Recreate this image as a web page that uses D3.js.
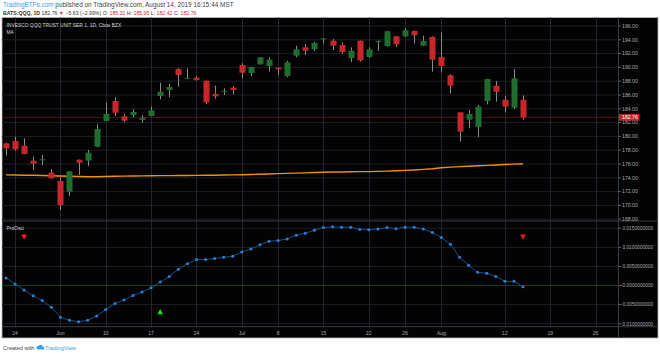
<!DOCTYPE html>
<html>
<head>
<meta charset="utf-8">
<script src="https://cdn.jsdelivr.net/npm/d3@7"></script>
<style>
  body { margin: 0; background: #fff; }
  svg { display: block; font-family: "Liberation Sans", Arial, sans-serif; }
</style>
</head>
<body>
<div id="chart"></div>
<script>
// trading days, May 23 - Aug 14 2019
const dates = [
  "05-23","05-24","05-28","05-29","05-30","05-31",
  "06-03","06-04","06-05","06-06","06-07","06-10","06-11","06-12","06-13","06-14",
  "06-17","06-18","06-19","06-20","06-21","06-24","06-25","06-26","06-27","06-28",
  "07-01","07-02","07-03","07-05","07-08","07-09","07-10","07-11","07-12",
  "07-15","07-16","07-17","07-18","07-19","07-22","07-23","07-24","07-25","07-26",
  "07-29","07-30","07-31","08-01","08-02","08-05","08-06","08-07","08-08","08-09",
  "08-12","08-13","08-14"
];
const open  = [179.00,179.33,178.65,176.48,176.55,174.74,173.54,171.99,176.62,176.48,178.51,182.23,185.13,182.91,183.10,182.38,182.96,185.86,186.72,189.77,188.40,188.51,188.07,186.14,186.55,187.06,190.35,189.19,190.45,190.20,189.96,188.75,191.70,192.91,192.62,194.07,193.87,193.25,191.36,193.87,191.51,193.75,193.10,194.51,194.51,195.28,193.14,194.41,191.51,188.86,183.49,182.42,181.36,185.13,187.35,185.32,184.16,185.31];
const high  = [179.10,179.96,179.72,177.06,177.30,175.28,174.02,175.00,176.65,178.03,181.75,184.88,185.67,183.25,183.93,183.06,184.30,187.78,187.59,189.90,189.87,188.75,188.10,187.35,186.97,187.30,190.59,190.10,191.50,191.46,190.00,190.97,193.14,193.39,193.72,194.25,194.12,193.64,192.91,193.90,192.91,193.90,195.30,194.55,195.67,195.35,194.59,194.51,195.09,189.00,183.50,183.83,184.55,188.35,188.03,185.90,189.77,185.95];
const low   = [177.20,177.93,177.40,175.13,175.86,173.90,169.33,171.36,174.41,175.71,178.42,182.20,182.96,182.04,182.77,181.99,182.90,185.38,185.67,187.20,188.28,188.07,184.70,185.46,186.00,186.10,188.42,188.75,190.40,189.38,188.90,188.57,191.46,191.80,192.38,193.49,192.52,191.99,190.78,190.83,191.36,192.38,193.00,192.96,194.40,193.49,193.10,189.38,189.29,186.25,179.23,181.17,179.91,184.65,185.03,183.49,183.97,182.42];
const close = [178.28,178.13,177.45,176.04,176.68,173.93,170.06,174.94,176.19,177.64,181.07,183.25,183.44,182.28,183.54,182.71,183.78,186.48,187.16,188.90,188.50,188.17,184.94,185.81,186.62,186.72,189.23,190.06,191.46,191.12,189.72,190.74,192.62,192.42,193.54,194.20,193.14,192.23,192.42,191.03,192.62,193.85,195.23,193.35,195.38,194.65,193.83,191.12,190.20,187.35,180.68,183.25,184.30,188.32,186.48,184.30,188.42,182.76];
const ma    = [174.42,174.40,174.38,174.36,174.33,174.30,174.26,174.22,174.18,174.16,174.16,174.18,174.22,174.25,174.27,174.28,174.30,174.31,174.32,174.33,174.34,174.35,174.36,174.37,174.40,174.42,174.45,174.48,174.52,174.56,174.60,174.64,174.68,174.72,174.76,174.80,174.83,174.85,174.87,174.89,174.90,174.93,174.97,175.02,175.08,175.14,175.22,175.32,175.45,175.55,175.62,175.68,175.74,175.80,175.86,175.92,175.98,176.04];
const osc   = [0.0020,0.0004,-0.0012,-0.0027,-0.0039,-0.0057,-0.0083,-0.0091,-0.0095,-0.0091,-0.0080,-0.0063,-0.0047,-0.0038,-0.0026,-0.0017,-0.0006,0.0009,0.0024,0.0043,0.0057,0.0068,0.0068,0.0071,0.0074,0.0077,0.0088,0.0096,0.0107,0.0116,0.0118,0.0122,0.0132,0.0137,0.0145,0.0152,0.0154,0.0153,0.0153,0.0147,0.0146,0.0148,0.0152,0.0149,0.0153,0.0153,0.0148,0.0139,0.0126,0.0108,0.0074,0.0053,0.0035,0.0032,0.0024,0.0011,0.0011,-0.0003];

const sellSignals = [2, 57];
const buySignals = [17];

const timeTickIndex = [1, 6, 11, 16, 21, 26, 30, 35, 40, 44, 48, 55, 60, 65];
const timeTickLabels = ["24", "Jun", "10", "17", "24", "Jul", "8", "15", "22", "26", "Aug", "12", "19", "26"];
const priceTicks = d3.range(168, 197, 2);
const oscTicks = [0.015, 0.01, 0.005, 0, -0.005, -0.01];
const oscTickLabels = ["0.0150000000", "0.0100000000", "0.0050000000", "-0.0000000000", "-0.0050000000", "-0.0100000000"];
const lastPrice = 182.76;

const W = 660, H = 354;
const svg = d3.select("#chart").append("svg").attr("width", W).attr("height", H);

// header
const h1 = svg.append("text").attr("x", 3).attr("y", 7.2).style("font-size", "6.4px").attr("fill", "#444");
h1.append("tspan").attr("fill", "#3a9ee6").text("TradingETFs.com");
h1.append("tspan").text(" published on TradingView.com, August 14, 2019 16:15:44 MST");

const h2 = svg.append("text").attr("x", 3).attr("y", 14.6).style("font-size", "5.2px").attr("fill", "#333");
h2.append("tspan").attr("font-weight", "bold").text("BATS:QQQ, 1D");
h2.append("tspan").text(" 182.76 ");
h2.append("tspan").attr("fill", "#e0252b").text("▼");
h2.append("tspan").text(" −5.63 (−2.99%) O: ");
h2.append("tspan").attr("fill", "#e0252b").text("185.31");
h2.append("tspan").text(" H: ");
h2.append("tspan").attr("fill", "#e0252b").text("185.95");
h2.append("tspan").text(" L: ");
h2.append("tspan").attr("fill", "#e0252b").text("182.42");
h2.append("tspan").text(" C: ");
h2.append("tspan").attr("fill", "#e0252b").text("182.76");

// chart background
const plotL = 2, plotR = 658, plotT = 17.5, plotB = 338;
const axisX = 618.5;
svg.append("rect").attr("x", plotL).attr("y", plotT).attr("width", plotR - plotL).attr("height", plotB - plotT)
  .attr("fill", "#030303").attr("stroke", "#b8b8b8").attr("stroke-width", 0.8);

// scales
const x = d3.scaleLinear().domain([0, 65]).range([6, 595.6]);
const yP = d3.scaleLinear().domain([168, 196]).range([219.2, 26]);
const yO = d3.scaleLinear().domain([-0.01, 0.015]).range([323.7, 228.3]);

const priceBottom = 221, oscBottom = 326.7;
const grid = svg.append("g");

// horizontal grid
grid.selectAll(".hp").data(priceTicks).enter().append("line")
  .attr("x1", plotL).attr("x2", axisX).attr("y1", d => yP(d)).attr("y2", d => yP(d))
  .attr("stroke", "#1c1f27").attr("stroke-width", 1);
grid.selectAll(".ho").data(oscTicks).enter().append("line")
  .attr("x1", plotL).attr("x2", axisX).attr("y1", d => yO(d)).attr("y2", d => yO(d))
  .attr("stroke", "#1c1f27").attr("stroke-width", 1);

// vertical grid
grid.selectAll(".v").data(timeTickIndex).enter().append("line")
  .attr("x1", d => Math.round(x(d)) + 0.5).attr("x2", d => Math.round(x(d)) + 0.5)
  .attr("y1", plotT).attr("y2", oscBottom)
  .attr("stroke", "#22252e").attr("stroke-width", 1);

// pane separators and axis lines
svg.append("line").attr("x1", plotL).attr("x2", plotR).attr("y1", priceBottom).attr("y2", priceBottom)
  .attr("stroke", "#3a3d45").attr("stroke-width", 1);
svg.append("line").attr("x1", plotL).attr("x2", plotR).attr("y1", oscBottom).attr("y2", oscBottom)
  .attr("stroke", "#3a3d45").attr("stroke-width", 1);
svg.append("line").attr("x1", axisX).attr("x2", axisX).attr("y1", plotT).attr("y2", plotB)
  .attr("stroke", "#3a3d45").attr("stroke-width", 1);

// last price line
svg.append("line").attr("x1", plotL).attr("x2", axisX).attr("y1", yP(lastPrice)).attr("y2", yP(lastPrice))
  .attr("stroke", "#6e1515").attr("stroke-width", 0.8);
// osc zero line
svg.append("line").attr("x1", plotL).attr("x2", axisX).attr("y1", yO(0)).attr("y2", yO(0))
  .attr("stroke", "#7a1212").attr("stroke-width", 1);

// price axis
const pAxis = svg.append("g");
pAxis.selectAll("line").data(priceTicks).enter().append("line")
  .attr("x1", axisX).attr("x2", axisX + 2.5).attr("y1", d => yP(d)).attr("y2", d => yP(d))
  .attr("stroke", "#666");
pAxis.selectAll("text").data(priceTicks).enter().append("text")
  .attr("x", 622).attr("y", d => yP(d) + 1.8)
  .style("font-size", "5.2px").attr("fill", "#a7aab2")
  .text(d => d3.format(".2f")(d));

// osc axis
const oAxis = svg.append("g");
oAxis.selectAll("line").data(oscTicks).enter().append("line")
  .attr("x1", axisX).attr("x2", axisX + 2.5).attr("y1", d => yO(d)).attr("y2", d => yO(d))
  .attr("stroke", "#666");
oAxis.selectAll("text").data(oscTicks).enter().append("text")
  .attr("x", (d, i) => oscTickLabels[i][0] === "-" ? 621 : 622.4).attr("y", d => yO(d) + 1.8)
  .style("font-size", "4.8px").attr("fill", "#a7aab2")
  .text((d, i) => oscTickLabels[i]);

// last price tag
svg.append("rect").attr("x", 619).attr("y", yP(lastPrice) - 3.3).attr("width", 20.5).attr("height", 6.6)
  .attr("fill", "#c8232a");
svg.append("text").attr("x", 622).attr("y", yP(lastPrice) + 1.9)
  .style("font-size", "5.2px").attr("fill", "#fff").text(lastPrice.toFixed(2));

// time axis labels
svg.append("g").selectAll("text").data(timeTickIndex).enter().append("text")
  .attr("x", d => x(d)).attr("y", 334.8).attr("text-anchor", "middle")
  .style("font-size", "5px").attr("fill", "#a7aab2")
  .text((d, i) => timeTickLabels[i]);

// MA line
svg.append("path").datum(ma)
  .attr("d", d3.line().x((d, i) => x(i)).y(d => yP(d)))
  .attr("fill", "none").attr("stroke", "#f0900f").attr("stroke-width", 1.4);

// candles
const bars = d3.range(dates.length);
const candles = svg.append("g");
candles.selectAll(".wick").data(bars).enter().append("line")
  .attr("x1", i => Math.round(x(i)) + 0.5).attr("x2", i => Math.round(x(i)) + 0.5)
  .attr("y1", i => yP(high[i])).attr("y2", i => yP(low[i]))
  .attr("stroke", "#8a8a8a").attr("stroke-width", 1);
candles.selectAll(".body").data(bars).enter().append("rect")
  .attr("x", i => Math.round(x(i)) + 0.5 - 3)
  .attr("width", 6)
  .attr("y", i => yP(Math.max(open[i], close[i])))
  .attr("height", i => Math.max(1, Math.abs(yP(open[i]) - yP(close[i]))))
  .attr("fill", i => close[i] >= open[i] ? "#1f6d2f" : "#c9262c");

// oscillator
svg.append("path").datum(osc)
  .attr("d", d3.line().x((d, i) => x(i)).y(d => yO(d)))
  .attr("fill", "none").attr("stroke", "#174d88").attr("stroke-width", 1);
svg.append("g").selectAll("circle").data(osc).enter().append("circle")
  .attr("cx", (d, i) => x(i)).attr("cy", d => yO(d)).attr("r", 1.5)
  .attr("fill", "#2b7fd3");

// signals
svg.append("g").selectAll("path").data(sellSignals).enter().append("path")
  .attr("d", i => `M${x(i) - 2.8},234.6 L${x(i) + 2.8},234.6 L${x(i)},239.8 Z`)
  .attr("fill", "#ff1a1a");
svg.append("g").selectAll("path").data(buySignals).enter().append("path")
  .attr("d", i => `M${x(i) - 2.8},314.2 L${x(i) + 2.8},314.2 L${x(i)},309 Z`)
  .attr("fill", "#19e619");

// legends
svg.append("text").attr("x", 6.5).attr("y", 27).style("font-size", "4.9px").attr("fill", "#d6d8de")
  .text("INVESCO QQQ TRUST UNIT SER 1, 1D, Cboe BZX");
svg.append("text").attr("x", 6.5).attr("y", 34.2).style("font-size", "4.9px").attr("fill", "#d6d8de")
  .text("MA");
svg.append("text").attr("x", 6.5).attr("y", 230.2).style("font-size", "4.9px").attr("fill", "#d6d8de")
  .text("ProOsci");

// footer
svg.append("text").attr("x", 3).attr("y", 349.5).style("font-size", "5.6px").attr("fill", "#444")
  .text("Created with");
const logo = svg.append("g").attr("transform", "translate(36.5,345.5)").attr("fill", "#39a0e3");
logo.append("circle").attr("cx", 1.6).attr("cy", 2.2).attr("r", 1.6);
logo.append("circle").attr("cx", 4).attr("cy", 1.4).attr("r", 2.2);
logo.append("circle").attr("cx", 6.4).attr("cy", 2.4).attr("r", 1.5);
logo.append("rect").attr("x", 1.2).attr("y", 2.4).attr("width", 5.6).attr("height", 1.5);
svg.append("text").attr("x", 45).attr("y", 349.5).style("font-size", "5.6px").attr("fill", "#39a0e3")
  .text("TradingView");
</script>
</body>
</html>
